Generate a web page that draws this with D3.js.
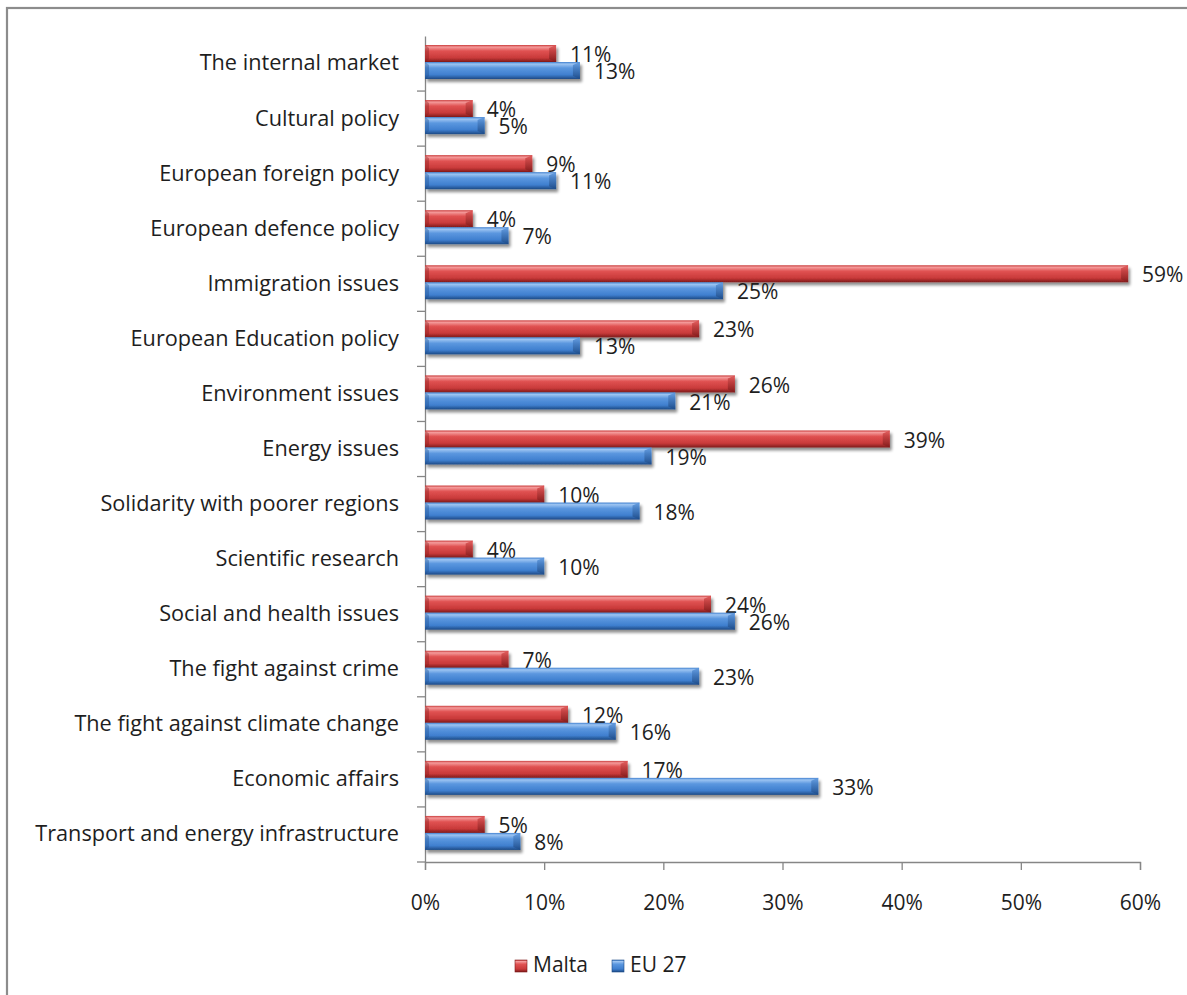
<!DOCTYPE html>
<html><head><meta charset="utf-8">
<script src="https://cdn.jsdelivr.net/npm/d3@7"></script>
<style>
html,body{margin:0;padding:0;background:#fff;}
svg{display:block;}
text{font-family:"Open Sans", "Liberation Sans", sans-serif;fill:#1e1e1e;}
</style></head>
<body>
<svg id="chart" width="1187" height="995"></svg>
<script>
const categories = [
  "The internal market","Cultural policy","European foreign policy","European defence policy",
  "Immigration issues","European Education policy","Environment issues","Energy issues",
  "Solidarity with poorer regions","Scientific research","Social and health issues",
  "The fight against crime","The fight against climate change","Economic affairs",
  "Transport and energy infrastructure"
];
const seriesNames = ["Malta","EU 27"];
const malta = [11,4,9,4,59,23,26,39,10,4,24,7,12,17,5];
const eu27  = [13,5,11,7,25,13,21,19,18,10,26,23,16,33,8];
const xTicks = [0,10,20,30,40,50,60];

const svg = d3.select("#chart");
const W = 1187, H = 995;
const FONT = "'Open Sans'";

// frame (only top/left visible)
svg.append("rect").attr("x",7).attr("y",8).attr("width",W+20).attr("height",H+20)
  .attr("fill","none").attr("stroke","#8c8c8c").attr("stroke-width",2.2);

const defs = svg.append("defs");
const colors = {
  "Malta": {hi:"#f49a9a", mid:"#e05252", main:"#c93a3a", dark:"#7e1a1a", cap:"#a52a2a"},
  "EU 27": {hi:"#9cc4f2", mid:"#5b97df", main:"#3f7fcf", dark:"#1d4a86", cap:"#2d64aa"}
};
Object.entries(colors).forEach(([k,c],i)=>{
  const g = defs.append("linearGradient").attr("id","g"+i).attr("x1",0).attr("y1",0).attr("x2",0).attr("y2",1);
  g.append("stop").attr("offset","0%").attr("stop-color",c.main);
  g.append("stop").attr("offset","12%").attr("stop-color",c.hi);
  g.append("stop").attr("offset","35%").attr("stop-color",c.mid);
  g.append("stop").attr("offset","75%").attr("stop-color",c.main);
  g.append("stop").attr("offset","100%").attr("stop-color",c.dark);
  const gc = defs.append("linearGradient").attr("id","c"+i).attr("x1",0).attr("y1",0).attr("x2",0).attr("y2",1);
  gc.append("stop").attr("offset","0%").attr("stop-color",c.mid);
  gc.append("stop").attr("offset","100%").attr("stop-color",c.dark);
});
const f = defs.append("filter").attr("id","sh").attr("x","-5%").attr("y","-30%").attr("width","115%").attr("height","180%");
f.append("feGaussianBlur").attr("in","SourceAlpha").attr("stdDeviation",1.6).attr("result","b");
f.append("feOffset").attr("in","b").attr("dx",1.5).attr("dy",2.5).attr("result","o");
f.append("feComponentTransfer").attr("in","o").attr("result","o2")
  .append("feFuncA").attr("type","linear").attr("slope",0.45);
const fm = f.append("feMerge");
fm.append("feMergeNode").attr("in","o2");
fm.append("feMergeNode").attr("in","SourceGraphic");

const x = d3.scaleLinear().domain([0,60]).range([425,1140]);
const y = d3.scaleBand().domain(categories).range([36,862]);
const sub = d3.scaleBand().domain(seriesNames).range([9,43]);

const data = categories.map((c,i)=>({cat:c, vals:[{s:"Malta",v:malta[i]},{s:"EU 27",v:eu27[i]}]}));

// axes
const axisColor = "#868686";
const gx = svg.append("g").attr("transform",`translate(0,862)`)
  .call(d3.axisBottom(x).tickValues(xTicks).tickSize(8).tickFormat(d=>d+"%"));
gx.select(".domain").attr("stroke",axisColor).attr("stroke-width",1.3);
gx.selectAll(".tick line").attr("stroke",axisColor).attr("stroke-width",1.3);
gx.selectAll(".tick text").attr("font-size",21).attr("dy","1.75em").style("font-family",FONT).attr("fill","#1e1e1e");

const gy = svg.append("g").attr("transform",`translate(425,0)`)
  .call(d3.axisLeft(y).tickSize(0).tickFormat(d=>d).tickPadding(26));
gy.select(".domain").attr("stroke",axisColor).attr("stroke-width",1.3);
gy.selectAll(".tick text").attr("font-size",21.7).style("font-family",FONT).attr("fill","#1e1e1e");
// boundary ticks
svg.append("g").selectAll("line").data(categories.slice(1).concat(["__end"]))
  .join("line")
  .attr("x1",417).attr("x2",425)
  .attr("y1",(d,i)=> d==="__end" ? y.range()[1] : y(d))
  .attr("y2",(d,i)=> d==="__end" ? y.range()[1] : y(d))
  .attr("stroke",axisColor).attr("stroke-width",1.3);

// bars
const groups = svg.append("g").selectAll("g.cat").data(data).join("g")
  .attr("transform",d=>`translate(0,${y(d.cat)})`);
const bars = groups.selectAll("g.bar").data(d=>d.vals).join("g").attr("class","bar");
bars.append("rect")
  .attr("x",x(0)).attr("y",d=>sub(d.s)).attr("width",d=>x(d.v)-x(0)).attr("height",sub.bandwidth())
  .attr("fill",d=>`url(#g${seriesNames.indexOf(d.s)})`).attr("filter","url(#sh)");
// bevel end cap
bars.append("path")
  .attr("d",d=>{
    const x1 = x(d.v), y0 = sub(d.s), h = sub.bandwidth();
    return `M${x1-7},${y0+3}L${x1},${y0}L${x1},${y0+h}L${x1-7},${y0+h-3}Z`;
  })
  .attr("fill",d=>`url(#c${seriesNames.indexOf(d.s)})`).attr("opacity",0.85);
// left bevel
bars.append("path")
  .attr("d",d=>{
    const x0 = x(0), y0 = sub(d.s), h = sub.bandwidth();
    return `M${x0},${y0}L${x0+4},${y0+3}L${x0+4},${y0+h-3}L${x0},${y0+h}Z`;
  })
  .attr("fill",d=>colors[d.s].dark).attr("opacity",0.35);

// value labels
bars.append("text")
  .attr("x",d=>x(d.v)+14).attr("y",d=>sub(d.s)+sub.bandwidth()/2+3)
  .attr("dominant-baseline","middle")
  .attr("font-size",21).text(d=>d.v+"%");

// legend
const lg = svg.append("g").attr("transform","translate(515,966)");
const lx = [0, 97];
seriesNames.forEach((s,i)=>{
  const g = lg.append("g").attr("transform",`translate(${lx[i]},0)`);
  g.append("rect").attr("x",0).attr("y",-6).attr("width",12).attr("height",12)
    .attr("fill",`url(#g${i})`).attr("stroke",colors[s].dark).attr("stroke-width",0.6);
  g.append("text").attr("x",18).attr("y",0).attr("dominant-baseline","middle").attr("font-size",21).text(s);
});
</script>
</body></html>
